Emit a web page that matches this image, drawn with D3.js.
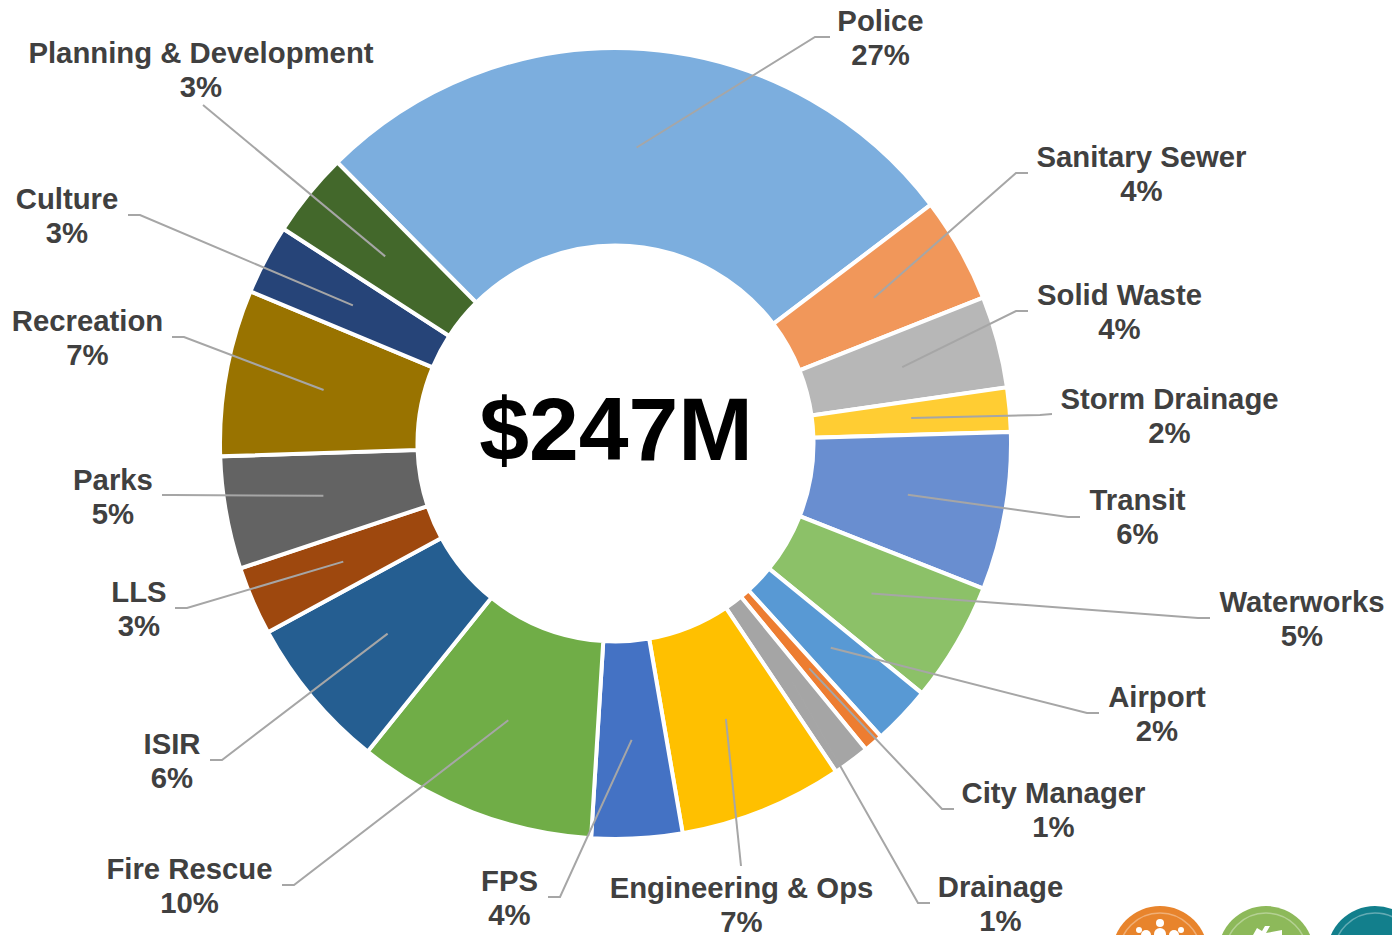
<!DOCTYPE html>
<html><head><meta charset="utf-8">
<style>html,body{margin:0;padding:0;background:#fff;overflow:hidden}</style>
<script src="https://cdn.jsdelivr.net/npm/d3@7"></script>
</head><body><svg id="c" width="1392" height="935"></svg>
<script>
const categories=["Police","Sanitary Sewer","Solid Waste","Storm Drainage","Transit","Waterworks","Airport","City Manager","Drainage","Engineering & Ops","FPS","Fire Rescue","ISIR","LLS","Parks","Recreation","Culture","Planning & Development"];
const shares=[27.1,4.3,3.75,1.8,6.45,4.9,2.4,0.8,1.5,6.7,3.7,9.8,6.3,2.8,4.6,6.8,2.85,3.45];
const percentLabels=["27%","4%","4%","2%","6%","5%","2%","1%","1%","7%","4%","10%","6%","3%","5%","7%","3%","3%"];
const totalLabel="$247M";
const sliceColors=["#7CAEDE","#F1975A","#B7B7B7","#FFCD33","#698ED0","#8CC168","#5899D4","#ED7D31","#A5A5A5","#FFC000","#4472C4","#70AD47","#255E91","#9E480E","#636363","#997300","#264478","#43682B"];
// label centre x, first-line centre y, leader waypoints from the slice centre to the label
const labelLayout=[
 [880.5,21,[[815,37],[830,37]]],[1141.5,157,[[1016,173],[1028,173]]],[1119.5,295,[[1016,311],[1028,311]]],
 [1169.5,399,[[1040,415],[1052,414]]],[1137.5,500,[[1068,517],[1080,517]]],[1302,602,[[1198,618],[1210,618]]],
 [1157,697,[[1087,713],[1099,713]]],[1053.5,793,[[942,809],[954,809]]],[1000.5,887,[[918,903],[930,903]]],
 [741.5,888,[[741,866]]],[509.5,881,[[560,897],[548,897]]],[189.5,869,[[294,885],[282,885]]],
 [172,744,[[222,760],[210,760]]],[139,592,[[187,608],[175,608]]],[113,480,[[173,495],[162,495]]],
 [87.5,321,[[184,337],[172,337]]],[67,199,[[140,215],[128,215]]],[201,53,[[203,105]]]
];
const cx=615.5,cy=443.5,R=395.5,r=198,start=-44.7*Math.PI/180;
const svg=d3.select("#c");
const font="'Liberation Sans',Arial,sans-serif";
const pie=d3.pie().value((d,i)=>shares[i]).sort(null).startAngle(start).endAngle(start+2*Math.PI);
const arc=d3.arc().innerRadius(r).outerRadius(R);
const arcs=pie(categories);
const g=svg.append("g").attr("transform",`translate(${cx},${cy})`);
g.selectAll("path").data(arcs).join("path").attr("d",arc)
 .attr("fill",(d,i)=>sliceColors[i]).attr("stroke","#fff").attr("stroke-width",4).attr("stroke-linejoin","miter");
const line=d3.line();
svg.append("g").selectAll("path").data(arcs).join("path")
 .attr("d",(d,i)=>{const c=arc.centroid(d);return line([[c[0]+cx,c[1]+cy],...labelLayout[i][2]]);})
 .attr("fill","none").attr("stroke","#A6A6A6").attr("stroke-width",2);
const t=svg.append("g").attr("font-family",font).attr("font-weight","700").attr("font-size",29.3).attr("fill","#404040").attr("text-anchor","middle");
categories.forEach((n,i)=>{const [x,y]=labelLayout[i];
 t.append("text").attr("x",x).attr("y",y).attr("dy","0.35em").text(n);
 t.append("text").attr("x",x).attr("y",y+34).attr("dy","0.35em").text(percentLabels[i]);});
svg.append("text").attr("x",cx+0.5).attr("y",429).attr("dy","0.35em").attr("text-anchor","middle")
 .attr("font-family",font).attr("font-weight","700").attr("font-size",89.5).attr("fill","#000").text(totalLabel);
// cropped badges in the lower right corner
const badges=[[1160,"#E8842C"],[1266,"#8DB95A"],[1375,"#127F8C"]];
const b=svg.append("g");
badges.forEach(([x,c])=>{
 b.append("circle").attr("cx",x).attr("cy",954).attr("r",48).attr("fill",c);
 b.append("circle").attr("cx",x).attr("cy",954).attr("r",41).attr("fill","none").attr("stroke","#fff").attr("stroke-opacity",.35).attr("stroke-width",1.5);
});
[[1160,923,4],[1139,930,3],[1181,930,3],[1160,934,6],[1146,935,5],[1174,935,5]].forEach(([x,y,s])=>b.append("circle").attr("cx",x).attr("cy",y).attr("r",s).attr("fill","#fff"));
b.append("path").attr("d","M1253 935L1257 928L1262 931L1265 926L1270 926L1266 933L1282 930L1282 935Z").attr("fill","#fff");
</script></body></html>
